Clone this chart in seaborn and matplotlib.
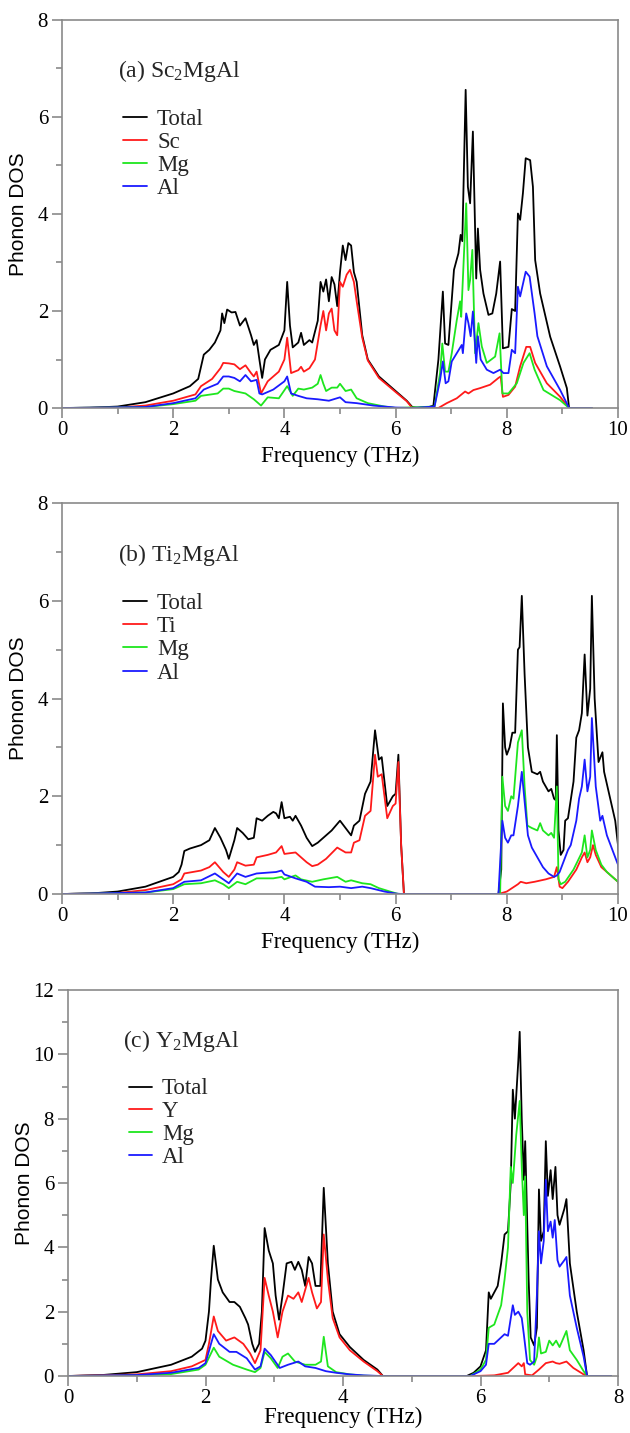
import numpy as np
import pandas as pd
import matplotlib
matplotlib.use("Agg")
import matplotlib.pyplot as plt
import seaborn as sns
from matplotlib.ticker import MultipleLocator

# ---------------- data (frequency THz, phonon DOS) ----------------
A_TOTAL = [(0,0),(0.5,0.005),(1.0,0.03),(1.5,0.12),(2.0,0.3),(2.3,0.45),(2.45,0.6),(2.55,1.1),(2.65,1.2),
           (2.75,1.35),(2.85,1.6),(2.88,1.95),(2.92,1.75),(2.97,2.03),(3.05,1.97),(3.12,1.98),(3.2,1.7),
           (3.3,1.85),(3.4,1.5),(3.45,1.3),(3.5,1.4),(3.55,1.0),(3.6,0.62),(3.65,1.0),(3.75,1.2),(3.9,1.3),
           (4.0,1.6),(4.05,2.6),(4.1,1.7),(4.15,1.25),(4.25,1.35),(4.3,1.55),(4.35,1.3),(4.45,1.4),(4.5,1.35),
           (4.6,1.8),(4.65,2.6),(4.7,2.4),(4.75,2.65),(4.8,2.2),(4.85,2.7),(4.9,2.55),(4.95,2.1),(5.0,2.8),
           (5.05,3.35),(5.1,3.05),(5.15,3.4),(5.2,3.35),(5.25,2.8),(5.3,2.6),(5.4,1.5),(5.5,1.0),(5.7,0.65),
           (6.0,0.35),(6.2,0.15),(6.3,0.02),(6.4,0),(6.6,0.02),(6.68,0.05),(6.77,1.0),(6.85,2.4),(6.89,1.33),
           (6.95,1.30),(7.01,2.23),(7.05,2.85),(7.13,3.19),(7.17,3.57),(7.2,3.44),(7.26,6.56),(7.30,4.56),
           (7.34,4.22),(7.39,5.70),(7.45,2.67),(7.48,3.70),(7.52,2.85),(7.58,2.36),(7.67,1.92),(7.74,1.95),
           (7.81,2.36),(7.88,3.02),(7.93,1.23),(8.03,1.26),(8.09,2.04),(8.15,2.0),(8.20,4.01),(8.24,3.88),
           (8.29,4.43),(8.34,5.15),(8.42,5.11),(8.47,4.56),(8.51,3.05),(8.60,2.36),(8.78,1.47),(8.96,0.85),
           (9.08,0.41),(9.12,0),(9.53,0)]
A_SC = [(0,0),(1.0,0.01),(1.5,0.05),(2.0,0.15),(2.4,0.28),(2.5,0.45),(2.7,0.6),(2.85,0.82),(2.9,0.93),
        (3.0,0.92),(3.1,0.9),(3.2,0.8),(3.3,0.88),(3.4,0.72),(3.45,0.65),(3.5,0.75),(3.58,0.3),(3.7,0.55),
        (3.9,0.75),(4.0,1.0),(4.05,1.45),(4.12,0.72),(4.25,0.78),(4.3,0.85),(4.35,0.75),(4.45,0.82),(4.55,1.0),
        (4.65,1.7),(4.7,2.0),(4.75,1.6),(4.8,1.95),(4.85,2.05),(4.9,1.6),(4.95,1.5),(5.0,2.6),(5.05,2.5),
        (5.12,2.75),(5.18,2.85),(5.25,2.6),(5.3,2.2),(5.4,1.45),(5.5,0.98),(5.7,0.62),(6.0,0.33),(6.2,0.14),
        (6.3,0.0),(6.77,0),(6.92,0.10),(7.10,0.2),(7.25,0.34),(7.31,0.30),(7.40,0.37),(7.52,0.41),(7.70,0.48),
        (7.85,0.62),(7.89,0.65),(7.93,0.23),(8.03,0.27),(8.15,0.44),(8.24,0.86),(8.35,1.26),(8.42,1.26),
        (8.51,0.93),(8.72,0.51),(8.96,0.23),(9.12,0),(9.53,0)]
A_MG = [(0,0),(1.5,0.02),(2.0,0.08),(2.4,0.15),(2.5,0.25),(2.8,0.3),(2.9,0.4),(3.0,0.4),(3.1,0.35),(3.3,0.3),
        (3.45,0.18),(3.58,0.05),(3.7,0.22),(3.9,0.2),(4.05,0.45),(4.15,0.25),(4.25,0.4),(4.35,0.38),(4.5,0.42),
        (4.6,0.5),(4.65,0.68),(4.7,0.5),(4.75,0.35),(4.85,0.42),(4.95,0.42),(5.0,0.5),(5.1,0.35),(5.2,0.38),
        (5.3,0.2),(5.5,0.1),(5.8,0.03),(6.0,0),(6.70,0.03),(6.80,0.72),(6.84,1.33),(6.89,0.75),(6.95,0.75),
        (7.01,1.13),(7.10,1.81),(7.16,2.2),(7.18,1.88),(7.27,4.22),(7.31,2.43),(7.34,2.64),(7.38,3.26),
        (7.43,1.13),(7.49,1.75),(7.55,1.27),(7.64,0.93),(7.79,1.06),(7.87,1.54),(7.92,0.30),(8.03,0.30),
        (8.18,0.51),(8.30,0.93),(8.41,1.13),(8.50,0.79),(8.66,0.37),(8.96,0.16),(9.12,0),(9.53,0)]
A_AL = [(0,0),(1.5,0.02),(2.0,0.1),(2.4,0.2),(2.55,0.38),(2.8,0.5),(2.9,0.65),(3.0,0.65),(3.1,0.62),(3.2,0.55),
        (3.3,0.68),(3.4,0.55),(3.5,0.58),(3.55,0.3),(3.6,0.28),(3.8,0.38),(4.0,0.55),(4.05,0.65),(4.12,0.3),
        (4.25,0.25),(4.4,0.2),(4.6,0.18),(4.8,0.15),(5.0,0.22),(5.1,0.12),(5.3,0.1),(5.6,0.05),(6.0,0.01),
        (6.3,0),(6.70,0.03),(6.80,0.58),(6.85,0.96),(6.90,0.51),(6.95,0.55),(7.01,0.96),(7.10,1.13),(7.19,1.30),
        (7.21,1.13),(7.27,1.95),(7.31,1.75),(7.35,1.48),(7.39,1.99),(7.45,0.93),(7.48,1.48),(7.53,1.0),
        (7.64,0.79),(7.76,0.72),(7.88,0.79),(7.94,0.72),(8.03,0.72),(8.09,1.20),(8.15,1.13),(8.20,2.50),
        (8.24,2.30),(8.34,2.81),(8.41,2.71),(8.50,1.95),(8.55,1.48),(8.72,0.86),(8.96,0.37),(9.12,0),(9.53,0)]

B_TOTAL = [(0,0),(0.5,0.01),(1.0,0.05),(1.5,0.15),(2.0,0.35),(2.1,0.45),(2.15,0.6),(2.2,0.88),(2.3,0.93),
           (2.5,1.0),(2.65,1.1),(2.75,1.35),(2.85,1.15),(2.95,0.9),(3.0,0.72),(3.1,1.1),(3.15,1.35),(3.25,1.25),
           (3.35,1.12),(3.45,1.15),(3.5,1.55),(3.6,1.5),(3.7,1.6),(3.8,1.68),(3.85,1.65),(3.9,1.55),(3.95,1.88),
           (4.0,1.55),(4.1,1.58),(4.15,1.5),(4.2,1.6),(4.3,1.4),(4.4,1.15),(4.5,0.98),(4.6,1.05),(4.75,1.2),
           (4.85,1.3),(5.0,1.5),(5.1,1.35),(5.2,1.2),(5.25,1.4),(5.35,1.5),(5.45,2.05),(5.55,2.3),(5.63,3.35),
           (5.7,2.75),(5.75,2.8),(5.85,1.8),(5.95,2.0),(6.0,2.05),(6.05,2.85),(6.1,1.0),(6.15,0),(7.85,0),
           (7.9,0.5),(7.93,3.9),(7.97,3.0),(8.0,2.85),(8.05,3.0),(8.1,3.3),(8.15,3.3),(8.2,5.0),(8.23,5.05),
           (8.27,6.1),(8.32,4.5),(8.38,3.0),(8.45,2.5),(8.55,2.45),(8.6,2.5),(8.65,2.3),(8.75,2.1),(8.8,2.15),
           (8.85,1.95),(8.88,1.92),(8.9,3.25),(8.93,1.3),(8.97,0.8),(9.02,0.9),(9.05,1.5),(9.1,1.55),(9.2,2.3),
           (9.25,3.2),(9.3,3.35),(9.35,3.7),(9.4,4.9),(9.45,3.65),(9.5,4.2),(9.53,6.1),(9.58,4.0),(9.65,2.7),
           (9.72,2.9),(9.75,2.5),(9.85,2.0),(9.95,1.5),(10.0,1.0),(10.05,0.05),(10.1,0)]
B_TI = [(0,0),(1.0,0.02),(1.5,0.08),(2.0,0.2),(2.15,0.3),(2.2,0.42),(2.5,0.48),(2.65,0.55),(2.75,0.65),
        (2.9,0.45),(3.0,0.35),(3.1,0.5),(3.15,0.65),(3.3,0.58),(3.45,0.6),(3.5,0.75),(3.7,0.8),(3.85,0.85),
        (3.95,0.98),(4.0,0.82),(4.2,0.85),(4.3,0.75),(4.4,0.65),(4.5,0.57),(4.6,0.6),(4.75,0.72),(4.95,0.95),
        (5.1,0.85),(5.2,0.85),(5.25,1.05),(5.35,1.1),(5.45,1.6),(5.55,1.7),(5.63,2.85),(5.68,2.4),(5.75,2.45),
        (5.85,1.55),(5.95,1.8),(6.0,1.85),(6.05,2.7),(6.1,1.0),(6.15,0),(7.85,0),(8.0,0.05),(8.2,0.2),
        (8.25,0.25),(8.35,0.22),(8.5,0.25),(8.7,0.3),(8.85,0.35),(8.9,0.55),(8.95,0.15),(9.0,0.12),(9.1,0.25),
        (9.25,0.5),(9.35,0.75),(9.4,0.85),(9.45,0.65),(9.5,0.75),(9.55,1.0),(9.6,0.8),(9.7,0.55),(9.8,0.45),
        (10.0,0.25),(10.08,0),(10.1,0)]
B_MG = [(0,0),(1.5,0.03),(2.0,0.1),(2.2,0.2),(2.5,0.22),(2.75,0.28),(2.9,0.2),(3.0,0.12),(3.15,0.25),(3.3,0.2),
        (3.5,0.32),(3.8,0.32),(3.95,0.35),(4.0,0.3),(4.2,0.38),(4.3,0.3),(4.5,0.25),(4.7,0.3),(4.95,0.35),
        (5.1,0.25),(5.2,0.28),(5.4,0.22),(5.55,0.2),(5.7,0.12),(5.9,0.05),(6.05,0),(7.88,0),(7.92,2.4),
        (7.97,1.8),(8.02,1.7),(8.08,2.0),(8.12,1.95),(8.2,3.1),(8.27,3.35),(8.32,2.2),(8.37,1.4),(8.45,1.35),
        (8.55,1.3),(8.6,1.45),(8.65,1.3),(8.75,1.2),(8.8,1.25),(8.85,1.15),(8.9,2.2),(8.93,0.3),(8.97,0.2),
        (9.05,0.25),(9.2,0.5),(9.35,0.85),(9.4,1.2),(9.45,0.75),(9.5,0.9),(9.53,1.3),(9.6,0.9),(9.7,0.6),
        (9.8,0.45),(10.0,0.25),(10.08,0),(10.1,0)]
B_AL = [(0,0),(1.5,0.03),(2.0,0.12),(2.2,0.25),(2.5,0.28),(2.75,0.42),(2.9,0.3),(3.0,0.22),(3.15,0.42),
        (3.3,0.35),(3.5,0.42),(3.85,0.45),(3.95,0.48),(4.0,0.4),(4.2,0.32),(4.4,0.25),(4.55,0.15),(4.8,0.14),
        (5.0,0.15),(5.2,0.12),(5.4,0.15),(5.55,0.12),(5.8,0.05),(6.0,0.01),(6.1,0),(7.85,0),(7.92,1.5),
        (7.97,1.15),(8.02,1.05),(8.08,1.2),(8.12,1.2),(8.2,1.8),(8.27,2.5),(8.32,1.9),(8.38,1.2),(8.45,0.95),
        (8.55,0.75),(8.65,0.55),(8.75,0.42),(8.85,0.35),(8.9,0.38),(8.95,0.45),(9.0,0.6),(9.1,0.9),(9.15,1.0),
        (9.25,1.5),(9.3,1.95),(9.35,2.2),(9.4,2.75),(9.45,2.1),(9.5,2.4),(9.53,3.6),(9.6,2.2),(9.68,1.5),
        (9.72,1.6),(9.8,1.2),(9.9,0.9),(10.0,0.6),(10.05,0),(10.1,0)]

C_TOTAL = [(0,0),(0.5,0.03),(1.0,0.12),(1.5,0.35),(1.8,0.6),(1.95,0.85),(2.0,1.1),(2.05,2.0),(2.08,3.0),
           (2.12,4.05),(2.18,3.0),(2.25,2.6),(2.35,2.3),(2.42,2.3),(2.5,2.15),(2.58,1.8),(2.62,1.6),(2.68,1.0),
           (2.72,0.75),(2.78,1.0),(2.82,2.0),(2.86,4.6),(2.92,3.9),(2.98,3.5),(3.02,2.5),(3.07,1.75),(3.12,2.5),
           (3.18,3.5),(3.25,3.55),(3.3,3.3),(3.35,3.55),(3.4,3.3),(3.45,2.8),(3.5,3.7),(3.55,3.5),(3.6,2.8),
           (3.67,2.8),(3.72,5.85),(3.78,3.5),(3.85,2.0),(3.95,1.3),(4.1,0.9),(4.3,0.5),(4.5,0.2),(4.58,0),
           (5.8,0),(5.9,0.1),(6.0,0.3),(6.08,0.8),(6.12,2.6),(6.15,2.4),(6.2,2.6),(6.25,2.8),(6.3,3.5),(6.35,4.4),
           (6.4,4.5),(6.44,6.0),(6.47,8.9),(6.5,8.0),(6.55,9.8),(6.57,10.7),(6.6,8.0),(6.63,6.1),(6.65,7.3),
           (6.7,3.0),(6.73,1.2),(6.78,0.95),(6.82,1.5),(6.85,5.8),(6.88,4.2),(6.92,4.5),(6.95,7.3),(6.98,5.6),
           (7.02,6.4),(7.05,5.5),(7.09,6.5),(7.12,5.0),(7.15,4.7),(7.22,5.2),(7.25,5.5),(7.3,3.5),(7.4,2.0),
           (7.5,0.8),(7.55,0),(7.9,0)]
C_Y = [(0,0),(1.0,0.05),(1.5,0.15),(1.8,0.3),(2.0,0.5),(2.05,1.0),(2.12,1.85),(2.18,1.4),(2.3,1.1),(2.42,1.2),
       (2.55,1.0),(2.65,0.7),(2.72,0.4),(2.8,0.8),(2.86,3.05),(2.92,2.5),(2.98,2.0),(3.05,1.2),(3.12,2.0),
       (3.2,2.5),(3.28,2.4),(3.35,2.6),(3.4,2.3),(3.5,3.05),(3.55,2.6),(3.62,2.1),(3.68,2.3),(3.72,4.4),
       (3.78,3.0),(3.85,1.8),(3.95,1.2),(4.1,0.8),(4.3,0.45),(4.5,0.15),(4.58,0),(5.9,0),(6.2,0.02),(6.4,0.1),
       (6.55,0.4),(6.6,0.3),(6.63,0.4),(6.65,0.05),(6.75,0.02),(6.85,0.2),(6.95,0.4),(7.05,0.45),(7.1,0.4),
       (7.15,0.38),(7.25,0.45),(7.35,0.25),(7.5,0.05),(7.55,0),(7.9,0)]
C_MG = [(0,0),(1.0,0.02),(1.5,0.06),(1.9,0.2),(2.0,0.35),(2.12,0.88),(2.2,0.6),(2.4,0.35),(2.6,0.2),(2.72,0.12),
        (2.8,0.25),(2.86,0.75),(2.95,0.55),(3.05,0.25),(3.12,0.6),(3.2,0.7),(3.3,0.45),(3.45,0.35),(3.6,0.35),
        (3.68,0.45),(3.72,1.22),(3.78,0.3),(3.9,0.12),(4.1,0.05),(4.3,0.01),(4.5,0),(5.85,0),(6.0,0.2),
        (6.08,0.5),(6.12,1.5),(6.2,1.6),(6.3,2.2),(6.35,3.0),(6.4,4.0),(6.44,6.5),(6.47,6.0),(6.52,7.5),
        (6.57,8.55),(6.6,6.5),(6.63,5.0),(6.65,6.2),(6.68,2.0),(6.72,0.5),(6.78,0.35),(6.82,0.6),(6.85,1.2),
        (6.88,0.7),(6.95,0.75),(7.0,1.1),(7.05,0.95),(7.1,1.1),(7.15,0.9),(7.25,1.4),(7.3,0.8),(7.4,0.5),
        (7.5,0.15),(7.55,0),(7.9,0)]
C_AL = [(0,0),(1.0,0.03),(1.5,0.1),(1.9,0.25),(2.0,0.4),(2.12,1.3),(2.2,1.0),(2.35,0.75),(2.45,0.75),(2.6,0.55),
        (2.72,0.2),(2.8,0.3),(2.86,0.85),(2.95,0.65),(3.08,0.25),(3.2,0.35),(3.35,0.45),(3.45,0.3),(3.6,0.25),
        (3.75,0.15),(3.9,0.1),(4.1,0.05),(4.3,0.02),(4.55,0),(5.85,0),(6.0,0.15),(6.08,0.35),(6.12,1.0),
        (6.2,1.0),(6.3,1.2),(6.35,1.3),(6.4,1.25),(6.47,2.2),(6.5,1.9),(6.55,2.0),(6.6,1.8),(6.63,1.3),
        (6.68,0.4),(6.72,0.35),(6.78,0.45),(6.82,2.5),(6.85,4.5),(6.88,3.5),(6.92,4.2),(6.95,6.1),(6.98,4.5),
        (7.02,4.8),(7.05,4.3),(7.08,4.85),(7.12,3.6),(7.15,3.4),(7.22,3.6),(7.25,3.7),(7.3,2.5),(7.4,1.5),
        (7.5,0.6),(7.55,0),(7.9,0)]

PANELS = [
    ("(a) Sc$_{\\mathrm{2}}$MgAl", ["Total", "Sc", "Mg", "Al"], [A_TOTAL, A_SC, A_MG, A_AL], 10, 8),
    ("(b) Ti$_{\\mathrm{2}}$MgAl", ["Total", "Ti", "Mg", "Al"], [B_TOTAL, B_TI, B_MG, B_AL], 10, 8),
    ("(c) Y$_{\\mathrm{2}}$MgAl", ["Total", "Y", "Mg", "Al"], [C_TOTAL, C_Y, C_MG, C_AL], 8, 12),
]
COLORS = ["#000000", "#ff1a1a", "#1ee61e", "#1a1aff"]

# ---------------- style ----------------
sns.set_theme(style="ticks")
plt.rcParams.update({
    "font.family": ["Liberation Serif", "DejaVu Serif"],
    "mathtext.fontset": "custom",
    "mathtext.rm": "Liberation Serif",
    "mathtext.it": "Liberation Serif:italic",
    "axes.edgecolor": "#8a8a8a",
    "axes.linewidth": 1.2,
    "xtick.color": "#8a8a8a",
    "ytick.color": "#8a8a8a",
    "xtick.labelcolor": "black",
    "ytick.labelcolor": "black",
    "xtick.direction": "out",
    "ytick.direction": "out",
    "xtick.major.size": 7,
    "ytick.major.size": 7,
    "xtick.minor.size": 4.5,
    "ytick.minor.size": 4.5,
    "xtick.major.width": 1.2,
    "ytick.major.width": 1.2,
    "xtick.minor.width": 1.2,
    "ytick.minor.width": 1.2,
    "xtick.labelsize": 15,
    "ytick.labelsize": 15,
    "xtick.major.pad": 2.5,
    "ytick.major.pad": 3,
    "axes.facecolor": "white",
    "figure.facecolor": "white",
})

W, H = 630, 1433
fig = plt.figure(figsize=(W / 100, H / 100), dpi=100)
# (left, top, right, bottom) in pixels, plus pixel offset of the x-label top below the axis
boxes = [(62, 20, 618, 408, 38), (62, 503, 618, 894, 38), (68, 990, 618, 1376, 31)]

for (title, names, series, xmax, ymax), (l, t, r, b, xl) in zip(PANELS, boxes):
    ax = fig.add_axes([l / W, 1 - b / H, (r - l) / W, (b - t) / H])
    frames = []
    for name, pts in zip(names, series):
        arr = np.array(pts, dtype=float)
        frames.append(pd.DataFrame({"Frequency": arr[:, 0], "DOS": arr[:, 1], "Series": name}))
    df = pd.concat(frames, ignore_index=True)
    sns.lineplot(data=df, x="Frequency", y="DOS", hue="Series", hue_order=names,
                 palette=dict(zip(names, COLORS)), estimator=None, sort=False,
                 legend=False, lw=1.3, ax=ax)
    ax.set_xlim(0, xmax)
    ax.set_ylim(0, ymax)
    ax.xaxis.set_major_locator(MultipleLocator(2))
    ax.xaxis.set_minor_locator(MultipleLocator(1))
    ax.yaxis.set_major_locator(MultipleLocator(2))
    ax.yaxis.set_minor_locator(MultipleLocator(1))
    ax.set_xlabel("Frequency (THz)", fontsize=16.5, color="black")
    ax.set_ylabel("Phonon DOS", fontsize=15, family=["Liberation Sans", "DejaVu Sans"], color="black")
    ax.xaxis.set_label_coords(0.5, -xl / (b - t))
    ax.yaxis.set_label_coords(-0.062, 0.5)
    for s in ax.spines.values():
        s.set_visible(True)
    ax.text(0.10, 0.868, title, transform=ax.transAxes, fontsize=17, va="center", ha="left")
    for i, (name, c) in enumerate(zip(names, COLORS)):
        y = 0.75 - i * 0.0595
        ax.plot([0.11, 0.153], [y, y], transform=ax.transAxes, color=c, lw=1.3)
        ax.text(0.171, y, name, transform=ax.transAxes, fontsize=16.5,
                va="center_baseline", ha="left")

fig.savefig("out.png", dpi=100)
